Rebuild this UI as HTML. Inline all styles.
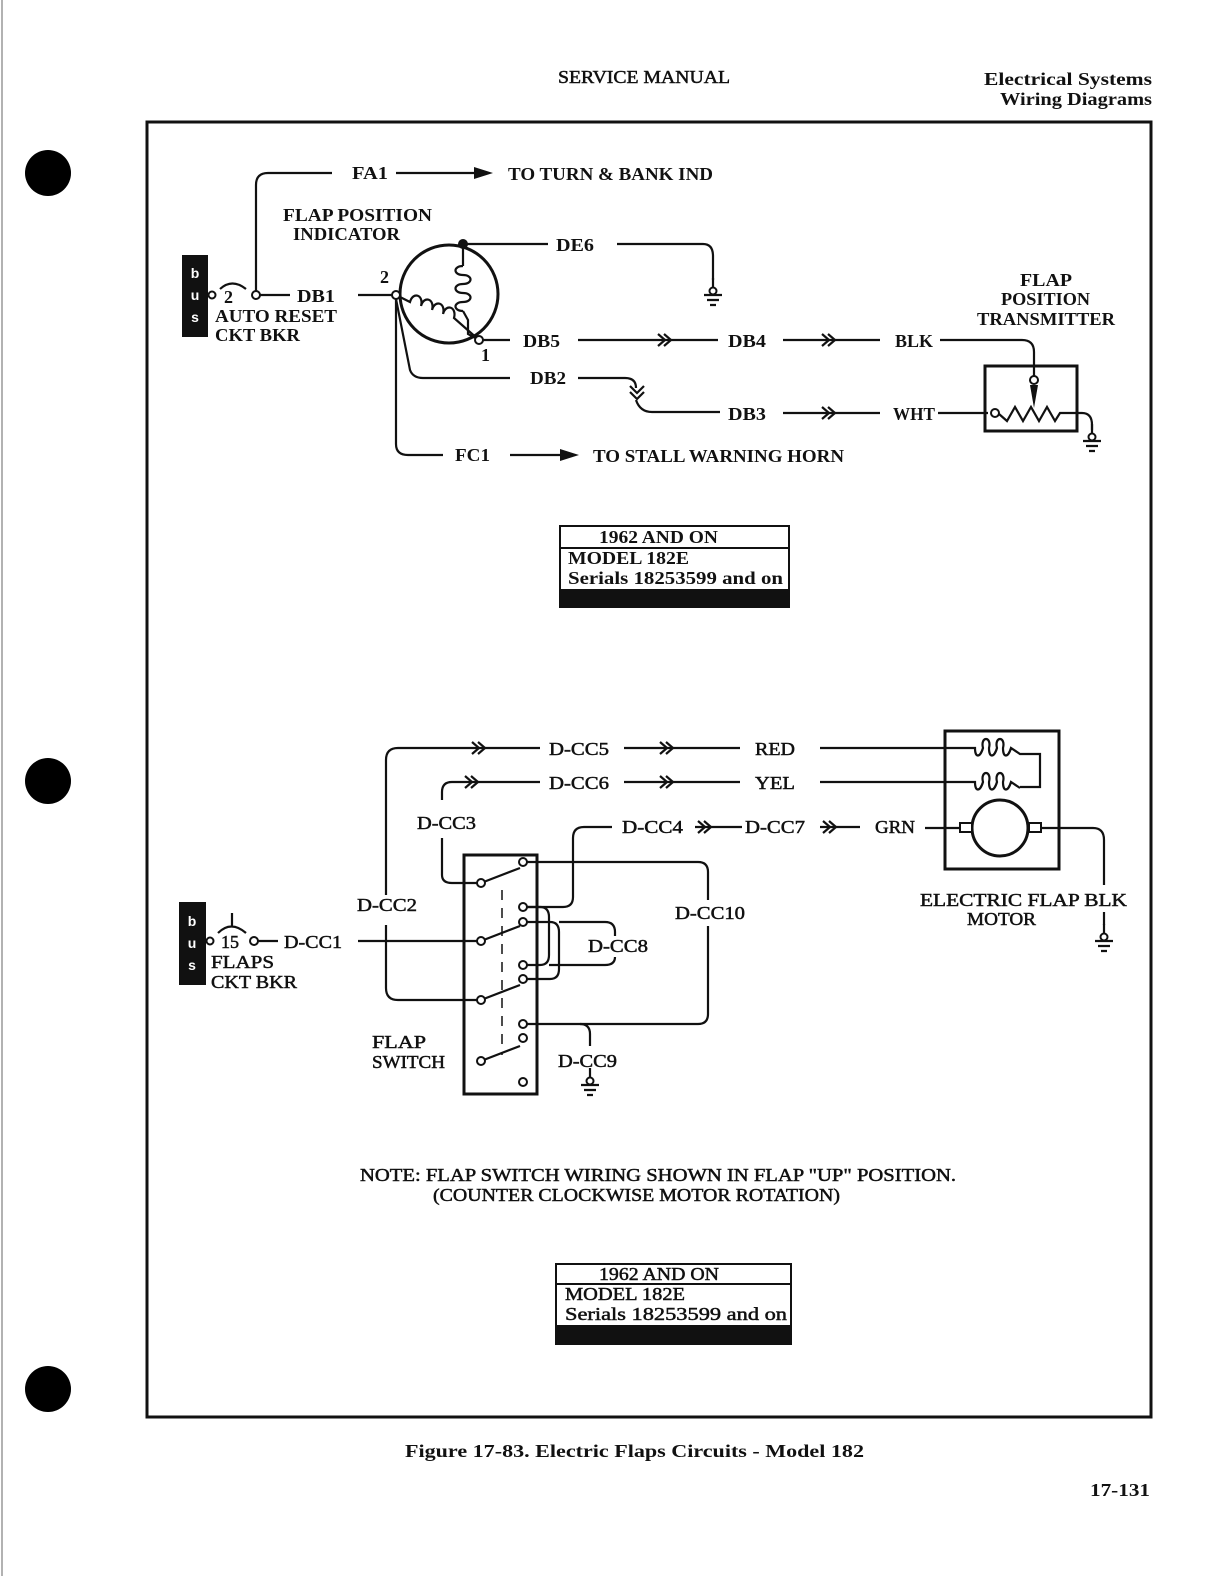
<!DOCTYPE html>
<html><head><meta charset="utf-8"><style>
html,body{margin:0;padding:0;background:#fff;overflow:hidden}
svg{display:block}
text{font-family:"Liberation Serif",serif;font-weight:bold;font-size:18px;fill:#111}
.n{font-weight:normal;stroke:#111;stroke-width:0.5}
.w{stroke:#111;stroke-width:2.2;fill:none}
.t{stroke:#111;stroke-width:3;fill:none}
.c{stroke:#111;stroke-width:2;fill:#fff}
</style></head><body>
<svg width="1224" height="1576" viewBox="0 0 1224 1576">
<defs>
<g id="gnd"><path class="w" d="M0 -14 V-4"/><circle class="c" cx="0" cy="-1" r="3.5"/><path class="w" d="M-9 3 H9 M-6 8 H6 M-3 13 H3"/></g>
<g id="chev"><path class="w" d="M-10 -6 L-3 0 L-10 6 M-4 -6 L3 0 L-4 6"/></g>
</defs>
<line x1="2" y1="0" x2="2" y2="1576" stroke="#999" stroke-width="1.5"/>
<circle cx="48" cy="173" r="23" fill="#000"/>
<circle cx="48" cy="781" r="23" fill="#000"/>
<circle cx="48" cy="1389" r="23" fill="#000"/>
<text x="558" y="83" textLength="172" lengthAdjust="spacingAndGlyphs" class="n">SERVICE MANUAL</text>
<text x="984" y="85" textLength="168" lengthAdjust="spacingAndGlyphs">Electrical Systems</text>
<text x="1000" y="105" textLength="152" lengthAdjust="spacingAndGlyphs">Wiring Diagrams</text>
<rect x="147" y="122" width="1004" height="1295" class="t"/>
<text x="405" y="1457" textLength="459" lengthAdjust="spacingAndGlyphs">Figure 17-83.  Electric Flaps Circuits - Model 182</text>
<text x="1090" y="1496" textLength="60" lengthAdjust="spacingAndGlyphs">17-131</text>

<!-- TOP DIAGRAM -->
<rect x="182" y="255" width="26" height="82" fill="#111"/>
<text x="195" y="278" text-anchor="middle" style="fill:#fff;font-family:'Liberation Sans';font-size:14px">b</text>
<text x="195" y="300" text-anchor="middle" style="fill:#fff;font-family:'Liberation Sans';font-size:14px">u</text>
<text x="195" y="322" text-anchor="middle" style="fill:#fff;font-family:'Liberation Sans';font-size:14px">s</text>
<circle class="c" cx="212" cy="295" r="3.5"/>
<text x="224" y="303">2</text>
<path class="w" d="M220 289 Q232 278 246 289"/>
<circle class="c" cx="256" cy="295" r="4"/>
<path class="w" d="M260 295 H290 M256 291 V185 Q256 173 268 173 H332"/>
<text x="297" y="302" textLength="38" lengthAdjust="spacingAndGlyphs">DB1</text>
<text x="215" y="322" textLength="122" lengthAdjust="spacingAndGlyphs">AUTO RESET</text>
<text x="215" y="341" textLength="85" lengthAdjust="spacingAndGlyphs">CKT BKR</text>
<text x="352" y="179" textLength="36" lengthAdjust="spacingAndGlyphs">FA1</text>
<path class="w" d="M396 173 H478"/><path d="M474 167 L493 173 L474 179Z" fill="#111"/>
<text x="508" y="180" textLength="205" lengthAdjust="spacingAndGlyphs">TO TURN &amp; BANK IND</text>
<text x="283" y="221" textLength="149" lengthAdjust="spacingAndGlyphs">FLAP POSITION</text>
<text x="293" y="240" textLength="107" lengthAdjust="spacingAndGlyphs">INDICATOR</text>

<circle class="t" cx="449" cy="294" r="49"/>
<path class="w" d="M358 295 H392"/>
<text x="380" y="283">2</text>
<circle cx="463" cy="244" r="5" fill="#111"/>
<path class="w" d="M463 244 H548"/>
<text x="556" y="251" textLength="38" lengthAdjust="spacingAndGlyphs">DE6</text>
<path class="w" d="M617 244 H703 Q713 244 713 256 V280"/>
<use href="#gnd" x="713" y="292"/>
<path class="w" d="M463 244 V266 M463 266 c-10 0 -10 9 0 9 c10 0 10 9 0 9 c-10 0 -10 9 0 9 c10 0 10 9 0 9 c-10 0 -10 9 0 9 M463 311 L468 320 V334 L479 340"/>
<path class="w" d="M396 295 L410 302 c3 -11 14 -7 11 4 c3 -11 14 -7 11 4 c3 -11 14 -7 11 4 c3 -11 14 -7 11 4 L479 340"/>
<circle class="c" cx="396" cy="295" r="4"/>
<circle class="c" cx="479" cy="340" r="4"/>
<text x="481" y="361">1</text>
<path class="w" d="M483 340 H510"/>
<text x="523" y="347" textLength="37" lengthAdjust="spacingAndGlyphs">DB5</text>
<path class="w" d="M578 340 H718"/><use href="#chev" x="668" y="340"/>
<text x="728" y="347" textLength="38" lengthAdjust="spacingAndGlyphs">DB4</text>
<path class="w" d="M783 340 H880"/><use href="#chev" x="832" y="340"/>
<text x="895" y="347" textLength="38" lengthAdjust="spacingAndGlyphs">BLK</text>
<path class="w" d="M940 340 H1022 Q1034 340 1034 352 V376"/>
<circle class="c" cx="1034" cy="380" r="4"/>
<path d="M1030 385 L1038 385 L1034 408Z" fill="#111"/>
<path class="w" d="M396 299 L410 370 Q413 378 423 378 H510"/>
<text x="530" y="384" textLength="36" lengthAdjust="spacingAndGlyphs">DB2</text>
<path class="w" d="M578 378 H625 Q636 378 636 388 M636 400 Q640 412 652 412 H720"/>
<path class="w" d="M630 386 L637 393 L644 386 M630 392 L637 399 L644 392"/>
<text x="728" y="420" textLength="38" lengthAdjust="spacingAndGlyphs">DB3</text>
<path class="w" d="M783 413 H880"/><use href="#chev" x="832" y="413"/>
<text x="893" y="420" textLength="42" lengthAdjust="spacingAndGlyphs">WHT</text>
<path class="w" d="M938 413 H988"/>
<rect x="985" y="366" width="92" height="65" class="t"/>
<circle class="c" cx="995" cy="413" r="4"/>
<path class="w" d="M999 414 L1007 421 L1015 407 L1023 421 L1031 407 L1039 421 L1047 407 L1055 421 L1060 413 H1082 Q1092 413 1092 425 V430"/>
<use href="#gnd" x="1092" y="438"/>
<text x="1020" y="286" textLength="52" lengthAdjust="spacingAndGlyphs">FLAP</text>
<text x="1001" y="305" textLength="89" lengthAdjust="spacingAndGlyphs">POSITION</text>
<text x="977" y="325" textLength="138" lengthAdjust="spacingAndGlyphs">TRANSMITTER</text>
<path class="w" d="M396 299 V444 Q396 455 408 455 H443"/>
<text x="455" y="461" textLength="35" lengthAdjust="spacingAndGlyphs">FC1</text>
<path class="w" d="M510 455 H565"/><path d="M560 449 L579 455 L560 461Z" fill="#111"/>
<text x="593" y="462" textLength="251" lengthAdjust="spacingAndGlyphs">TO STALL WARNING HORN</text>

<rect x="560" y="526" width="229" height="81" fill="#fff" stroke="#111" stroke-width="2"/>
<line x1="560" y1="548" x2="789" y2="548" stroke="#111" stroke-width="2"/>
<rect x="560" y="589" width="229" height="18" fill="#111"/>
<text x="599" y="543" textLength="119" lengthAdjust="spacingAndGlyphs">1962 AND ON</text>
<text x="568" y="564" textLength="121" lengthAdjust="spacingAndGlyphs">MODEL 182E</text>
<text x="568" y="584" textLength="215" lengthAdjust="spacingAndGlyphs">Serials 18253599 and on</text>

<!-- BOTTOM DIAGRAM -->
<rect x="179" y="902" width="27" height="83" fill="#111"/>
<text x="192" y="926" text-anchor="middle" style="fill:#fff;font-family:'Liberation Sans';font-size:14px">b</text>
<text x="192" y="948" text-anchor="middle" style="fill:#fff;font-family:'Liberation Sans';font-size:14px">u</text>
<text x="192" y="970" text-anchor="middle" style="fill:#fff;font-family:'Liberation Sans';font-size:14px">s</text>
<circle class="c" cx="210" cy="941" r="3.5"/>
<text x="221" y="948" class="n">15</text>
<path class="w" d="M218 933 Q231 920 246 933 M232 926 V913"/>
<circle class="c" cx="254" cy="941" r="4"/>
<path class="w" d="M258 941 H278"/>
<text x="284" y="948" textLength="58" lengthAdjust="spacingAndGlyphs" class="n">D-CC1</text>
<text x="211" y="968" textLength="63" lengthAdjust="spacingAndGlyphs" class="n">FLAPS</text>
<text x="211" y="988" textLength="86" lengthAdjust="spacingAndGlyphs" class="n">CKT BKR</text>

<rect x="464" y="855" width="73" height="239" class="t"/>
<path d="M502 890 V1055" stroke="#111" stroke-width="1.5" stroke-dasharray="10 8"/>
<path class="w" d="M358 941 H477"/>
<path class="w" d="M386 895 V760 Q386 748 398 748 H540 M386 925 V988 Q386 1000 398 1000 H477"/>
<use href="#chev" x="482" y="748"/>
<text x="357" y="911" textLength="60" lengthAdjust="spacingAndGlyphs" class="n">D-CC2</text>
<text x="549" y="755" textLength="60" lengthAdjust="spacingAndGlyphs" class="n">D-CC5</text>
<path class="w" d="M624 748 H740"/><use href="#chev" x="670" y="748"/>
<text x="755" y="755" textLength="40" lengthAdjust="spacingAndGlyphs" class="n">RED</text>
<path class="w" d="M442 800 V792 Q442 782 452 782 H540"/>
<use href="#chev" x="475" y="782"/>
<text x="549" y="789" textLength="60" lengthAdjust="spacingAndGlyphs" class="n">D-CC6</text>
<path class="w" d="M624 782 H740"/><use href="#chev" x="670" y="782"/>
<text x="755" y="789" textLength="40" lengthAdjust="spacingAndGlyphs" class="n">YEL</text>
<text x="417" y="829" textLength="59" lengthAdjust="spacingAndGlyphs" class="n">D-CC3</text>
<path class="w" d="M442 838 V875 Q442 883 452 883 H477"/>
<path class="w" d="M481 883 L520 868 M481 941 L520 926 M481 1000 L520 985 M481 1061 L520 1046"/>
<circle class="c" cx="481" cy="883" r="4"/><circle class="c" cx="481" cy="941" r="4"/>
<circle class="c" cx="481" cy="1000" r="4"/><circle class="c" cx="481" cy="1061" r="4"/>
<path class="w" d="M527 907 H563 Q573 907 573 897 V838 Q573 827 584 827 H612"/>
<text x="622" y="833" textLength="61" lengthAdjust="spacingAndGlyphs" class="n">D-CC4</text>
<path class="w" d="M695 827 H742"/><use href="#chev" x="708" y="827"/>
<text x="745" y="833" textLength="60" lengthAdjust="spacingAndGlyphs" class="n">D-CC7</text>
<path class="w" d="M820 827 H860"/><use href="#chev" x="833" y="827"/>
<text x="875" y="833" textLength="40" lengthAdjust="spacingAndGlyphs" class="n">GRN</text>
<path class="w" d="M527 862 H698 Q708 862 708 872 V900 M708 926 V1014 Q708 1024 698 1024 H527"/>
<text x="675" y="919" textLength="70" lengthAdjust="spacingAndGlyphs" class="n">D-CC10</text>
<path class="w" d="M580 1024 Q590 1024 590 1034 V1046"/>
<text x="558" y="1067" textLength="59" lengthAdjust="spacingAndGlyphs" class="n">D-CC9</text>
<use href="#gnd" x="590" y="1082"/>
<path class="w" d="M527 907 H540 Q549 907 549 917 V955 Q549 965 540 965 H527"/>
<path class="w" d="M527 922 H550 Q559 922 559 932 V969 Q559 979 550 979 H527"/>
<path class="w" d="M559 922 H605 Q615 922 615 932 V936 M615 957 Q615 965 605 965 H549"/>
<text x="588" y="952" textLength="60" lengthAdjust="spacingAndGlyphs" class="n">D-CC8</text>
<circle class="c" cx="523" cy="862" r="4"/><circle class="c" cx="523" cy="907" r="4"/>
<circle class="c" cx="523" cy="922" r="4"/><circle class="c" cx="523" cy="965" r="4"/>
<circle class="c" cx="523" cy="979" r="4"/><circle class="c" cx="523" cy="1024" r="4"/>
<circle class="c" cx="523" cy="1038" r="4"/><circle class="c" cx="523" cy="1082" r="4"/>
<text x="372" y="1048" textLength="54" lengthAdjust="spacingAndGlyphs" class="n">FLAP</text>
<text x="372" y="1068" textLength="73" lengthAdjust="spacingAndGlyphs" class="n">SWITCH</text>

<rect x="945" y="731" width="114" height="138" class="t"/>
<path class="w" d="M820 748 H975 c0 10 5 10 8 0 c-3 -12 9 -12 6 0 c0 10 5 10 8 0 c-3 -12 9 -12 6 0 c0 10 5 10 8 0 L1020 754 H1040 V787 H1020"/>
<path class="w" d="M820 782 H975 c0 10 5 10 8 0 c-3 -12 9 -12 6 0 c0 10 5 10 8 0 c-3 -12 9 -12 6 0 c0 10 5 10 8 0 L1020 788"/>
<circle class="t" cx="1000" cy="828" r="28"/>
<rect x="960" y="823" width="12" height="9" class="c"/>
<rect x="1029" y="823" width="12" height="9" class="c"/>
<path class="w" d="M925 828 H960 M1041 828 H1093 Q1104 828 1104 840 V885"/>
<text x="920" y="906" textLength="207" lengthAdjust="spacingAndGlyphs" class="n">ELECTRIC FLAP BLK</text>
<text x="967" y="925" textLength="69" lengthAdjust="spacingAndGlyphs" class="n">MOTOR</text>
<path class="w" d="M1104 912 V925"/>
<use href="#gnd" x="1104" y="938"/>

<text x="360" y="1181" textLength="596" lengthAdjust="spacingAndGlyphs" class="n">NOTE:  FLAP SWITCH WIRING SHOWN IN FLAP "UP" POSITION.</text>
<text x="433" y="1201" textLength="407" lengthAdjust="spacingAndGlyphs" class="n">(COUNTER CLOCKWISE MOTOR ROTATION)</text>

<rect x="556" y="1264" width="235" height="80" fill="#fff" stroke="#111" stroke-width="2"/>
<line x1="556" y1="1284" x2="791" y2="1284" stroke="#111" stroke-width="2"/>
<rect x="556" y="1325" width="235" height="19" fill="#111"/>
<text x="599" y="1280" textLength="120" lengthAdjust="spacingAndGlyphs" class="n">1962 AND ON</text>
<text x="565" y="1300" textLength="120" lengthAdjust="spacingAndGlyphs" class="n">MODEL 182E</text>
<text x="565" y="1320" textLength="222" lengthAdjust="spacingAndGlyphs" class="n">Serials 18253599 and on</text>
</svg>
</body></html>
